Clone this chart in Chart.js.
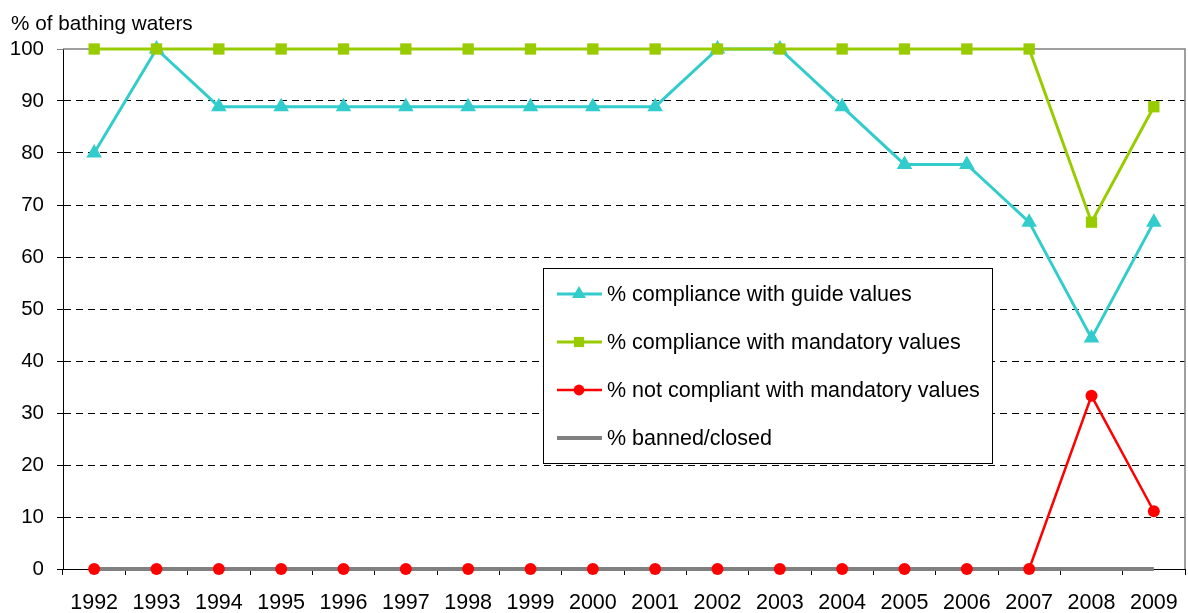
<!DOCTYPE html>
<html><head><meta charset="utf-8">
<script src="https://cdn.jsdelivr.net/npm/chart.js@4/dist/chart.umd.min.js"></script>
<style>html,body{margin:0;padding:0;background:#fff}#wrap{width:1188px;height:613px;position:relative}</style>
</head><body><div id="wrap"><canvas id="c" width="1188" height="613"></canvas></div>
<script>
const years = ['1992','1993','1994','1995','1996','1997','1998','1999','2000','2001','2002','2003','2004','2005','2006','2007','2008','2009'];
const guideValues = [80,100,88.9,88.9,88.9,88.9,88.9,88.9,88.9,88.9,100,100,88.9,77.8,77.8,66.7,44.4,66.7];
const mandatoryValues = [100,100,100,100,100,100,100,100,100,100,100,100,100,100,100,100,66.7,88.9];
const notCompliant = [0,0,0,0,0,0,0,0,0,0,0,0,0,0,0,0,33.3,11.1];
const bannedClosed = [0,0,0,0,0,0,0,0,0,0,0,0,0,0,0,0,0,0];
const yTicks = [0,10,20,30,40,50,60,70,80,90,100];
const yTitle = '% of bathing waters';

const FONT = '"Liberation Sans", Arial, sans-serif';

const datasets = [
  {label:'% compliance with guide values', data:guideValues, borderColor:'#33CCCC', backgroundColor:'#33CCCC', pointStyle:'triangle', pointRadius:9, borderWidth:3, order:2},
  {label:'% compliance with mandatory values', data:mandatoryValues, borderColor:'#99CC00', backgroundColor:'#99CC00', pointStyle:'rect', pointRadius:8, borderWidth:3, order:1},
  {label:'% not compliant with mandatory values', data:notCompliant, borderColor:'#FF0000', backgroundColor:'#FF0000', pointStyle:'circle', pointRadius:6, borderWidth:2.5, order:0,
   segment:{borderColor:(c)=> (c.p0.parsed.y===0 && c.p1.parsed.y===0) ? 'rgba(0,0,0,0)' : undefined}},
  {label:'% banned/closed', data:bannedClosed, borderColor:'#808080', backgroundColor:'#808080', pointRadius:0, borderWidth:4, order:3}
];
datasets.forEach(d=>{d.tension=0;d.clip=false;d.pointBorderWidth=0;d.pointHoverRadius=d.pointRadius;});

const framePlugin = {
  id:'frame',
  beforeDatasetsDraw(chart){
    const {ctx, chartArea:a} = chart;
    ctx.save();
    ctx.strokeStyle='#808080'; ctx.lineWidth=1.5;
    ctx.beginPath();
    ctx.moveTo(a.left, a.top); ctx.lineTo(a.right, a.top); ctx.lineTo(a.right, a.bottom);
    ctx.stroke();
    ctx.restore();
  },
  afterDraw(chart){
    const ctx = chart.ctx;
    ctx.save();
    ctx.fillStyle='#000';
    ctx.font = '20.7px '+FONT;
    ctx.textBaseline='alphabetic'; ctx.textAlign='left';
    ctx.fillText(yTitle, 11, 30);
    // legend
    const bx=543, by=268, bw=449, bh=195;
    ctx.fillStyle='#fff';
    ctx.fillRect(bx,by,bw,bh);
    ctx.strokeStyle='#000'; ctx.lineWidth=1;
    ctx.strokeRect(bx+0.5,by+0.5,bw,bh);
    ctx.font = '21.5px '+FONT;
    chart.data.datasets.forEach((ds,i)=>{
      const y = 294 + i*48;
      ctx.strokeStyle=ds.borderColor; ctx.lineWidth=ds.borderWidth;
      ctx.beginPath(); ctx.moveTo(557,y); ctx.lineTo(602,y); ctx.stroke();
      if (ds.pointRadius>0){
        ctx.fillStyle=ds.backgroundColor;
        ctx.strokeStyle=ds.backgroundColor;
        Chart.helpers.drawPoint(ctx,{pointStyle:ds.pointStyle,rotation:0,borderWidth:0,radius:ds.pointRadius*0.9},579,y);
      }
      ctx.fillStyle='#000';
      ctx.textBaseline='middle';
      ctx.fillText(ds.label, 607, y+1);
    });
    ctx.restore();
  }
};

new Chart(document.getElementById('c'), {
  type:'line',
  data:{labels:years, datasets},
  plugins:[framePlugin],
  options:{
    responsive:false, animation:false,
    layout:{autoPadding:false, padding:{top:49,right:3,bottom:0,left:0}},
    plugins:{legend:{display:false}, tooltip:{enabled:false}, title:{display:false}},
    scales:{
      x:{
        offset:true,
        grid:{offset:true, drawOnChartArea:false, drawTicks:true, tickLength:6, color:'#000', tickColor:'#000'},
        border:{color:'#000', width:1},
        ticks:{color:'#000', font:{family:FONT,size:21.5}, padding:15, maxRotation:0, autoSkip:false},
        afterFit(s){s.height=44; s.paddingLeft=0; s.paddingRight=0;}
      },
      y:{
        min:0, max:100,
        afterBuildTicks(s){s.ticks = yTicks.map(v=>({value:v}));},
        grid:{
          color:(c)=> (c.tick && (c.tick.value===0 || c.tick.value===100)) ? 'rgba(0,0,0,0)' : '#000',
          tickColor:(c)=> (c.tick && c.tick.value===100) ? '#808080' : '#000',
          lineWidth:1, tickLength:6
        },
        border:{color:'#000', width:1, dash:[7,5]},
        ticks:{color:'#000', font:{family:FONT,size:20.5}, padding:13},
        afterFit(s){s.width=63;}
      }
    }
  }
});
</script></body></html>
